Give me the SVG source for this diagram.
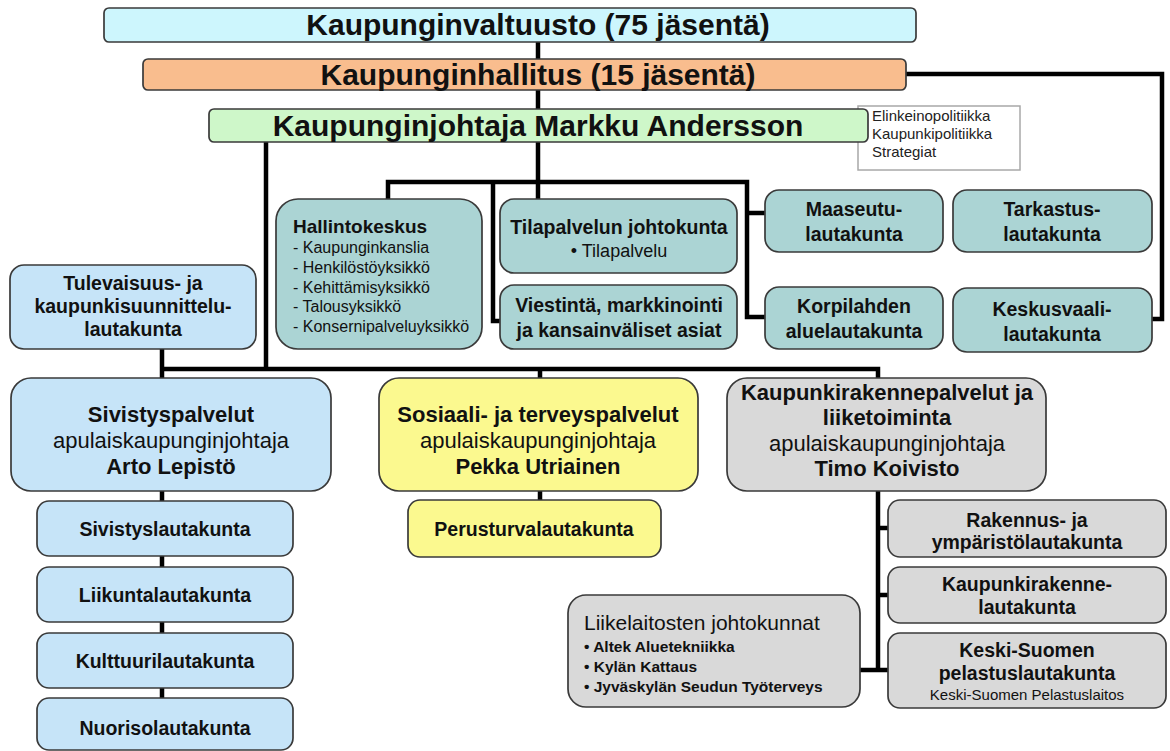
<svg xmlns="http://www.w3.org/2000/svg" width="1170" height="751" viewBox="0 0 1170 751">
<style>
.box{stroke:#3a3a3a;stroke-width:1.7}
.val{fill:#cdf6fd}.hal{fill:#f9bd8e}.joh{fill:#cef7c9}
.teal{fill:#abd4d4}.blue{fill:#c6e4f8}.yel{fill:#fbf98f}.gray{fill:#d9d9d9}
.info{fill:#fff;stroke:#a8a8a8;stroke-width:1.5}
.conn{fill:none;stroke:#000;stroke-width:4.5}
text{font-family:"Liberation Sans",Arial,sans-serif;fill:#111;text-anchor:middle}
.l{text-anchor:start}
.b{font-weight:bold}
.t{font-size:30px;font-weight:bold}
.big{font-size:22px}
.lab{font-size:19.5px;font-weight:bold}
.hk{font-size:19px;font-weight:bold}
.li{font-size:16px}
.inf{font-size:15px;fill:#222}
.lt{font-size:21px}
.it{font-size:15.5px;font-weight:bold}
.sm{font-size:15px}
</style>
<rect width="1170" height="751" fill="#fff"/>
<g id="connectors">
<path class="conn" d="M538 42V59M538 90V109M906 74H1162V319H1152M538 142V199M388 199V182H747V317H765M747 213H765M493 182V321H500M266 142V369M162 349V378M162 369H878V378M540 369V378M540 491V500M162 491V501M162 556V567M162 622V633M162 688V698M878 491V670M878 528H888M878 595H888M860 670H888"/>
</g>
<g id="valtuusto"><rect class="box val" x="104" y="8" width="812" height="34" rx="5"/><text class="t" x="538" y="35">Kaupunginvaltuusto (75 jäsentä)</text></g>
<g id="hallitus"><rect class="box hal" x="143" y="59" width="763" height="31" rx="5"/><text class="t" x="538" y="85">Kaupunginhallitus (15 jäsentä)</text></g>
<g id="info"><rect class="info" x="858" y="106" width="162" height="64"/><text class="inf l" x="872" y="121">Elinkeinopolitiikka</text><text class="inf l" x="872" y="139">Kaupunkipolitiikka</text><text class="inf l" x="872" y="157">Strategiat</text></g>
<g id="johtaja"><rect class="box joh" x="209" y="109" width="659" height="33" rx="5"/><text class="t" x="538" y="136">Kaupunginjohtaja Markku Andersson</text></g>
<g id="hallintokeskus"><rect class="box teal" x="276" y="199" width="206" height="150" rx="22"/><text class="hk l" x="293" y="233">Hallintokeskus</text><text class="li l" x="293" y="253">- Kaupunginkanslia</text><text class="li l" x="293" y="273">- Henkilöstöyksikkö</text><text class="li l" x="293" y="293">- Kehittämisyksikkö</text><text class="li l" x="293" y="312">- Talousyksikkö</text><text class="li l" x="293" y="332">- Konsernipalveluyksikkö</text></g>
<g id="tilapalvelu"><rect class="box teal" x="500" y="199" width="237" height="74" rx="14"/><text class="lab" x="619" y="234">Tilapalvelun johtokunta</text><text style="font-size:18px" x="619" y="257">• Tilapalvelu</text></g>
<g id="viestinta"><rect class="box teal" x="500" y="285" width="237" height="64" rx="14"/><text class="lab" x="619" y="312">Viestintä, markkinointi</text><text class="lab" x="619" y="337">ja kansainväliset asiat</text></g>
<g id="maaseutu"><rect class="box teal" x="765" y="190" width="178" height="62" rx="14"/><text class="lab" x="854" y="216">Maaseutu-</text><text class="lab" x="854" y="241">lautakunta</text></g>
<g id="korpilahti"><rect class="box teal" x="765" y="287" width="178" height="62" rx="14"/><text class="lab" x="854" y="313">Korpilahden</text><text class="lab" x="854" y="338">aluelautakunta</text></g>
<g id="tarkastus"><rect class="box teal" x="953" y="190" width="199" height="62" rx="14"/><text class="lab" x="1052" y="216">Tarkastus-</text><text class="lab" x="1052" y="241">lautakunta</text></g>
<g id="keskusvaali"><rect class="box teal" x="953" y="288" width="199" height="64" rx="14"/><text class="lab" x="1052" y="316">Keskusvaali-</text><text class="lab" x="1052" y="341">lautakunta</text></g>
<g id="tulevaisuus"><rect class="box blue" x="10" y="265" width="246" height="84" rx="14"/><text class="lab" x="133" y="290">Tulevaisuus- ja</text><text class="lab" x="133" y="313">kaupunkisuunnittelu-</text><text class="lab" x="133" y="336">lautakunta</text></g>
<g id="sivistyspalvelut"><rect class="box blue" x="11" y="378" width="320" height="113" rx="20"/><text class="big b" x="171" y="422">Sivistyspalvelut</text><text class="big" x="171" y="448">apulaiskaupunginjohtaja</text><text class="big b" x="171" y="474">Arto Lepistö</text></g>
<g id="sosiaali"><rect class="box yel" x="379" y="378" width="319" height="113" rx="20"/><text class="big b" x="538" y="422">Sosiaali- ja terveyspalvelut</text><text class="big" x="538" y="448">apulaiskaupunginjohtaja</text><text class="big b" x="538" y="474">Pekka Utriainen</text></g>
<g id="kaupunkirakennepalvelut"><rect class="box gray" x="727" y="378" width="319" height="113" rx="20"/><text class="big b" x="887" y="400">Kaupunkirakennepalvelut ja</text><text class="big b" x="887" y="425">liiketoiminta</text><text class="big" x="887" y="451">apulaiskaupunginjohtaja</text><text class="big b" x="887" y="476">Timo Koivisto</text></g>
<g id="sivistyslautakunta"><rect class="box blue" x="37" y="501" width="256" height="55" rx="12"/><text class="lab" x="165" y="536">Sivistyslautakunta</text></g>
<g id="liikuntalautakunta"><rect class="box blue" x="37" y="567" width="256" height="55" rx="12"/><text class="lab" x="165" y="602">Liikuntalautakunta</text></g>
<g id="kulttuurilautakunta"><rect class="box blue" x="37" y="633" width="256" height="55" rx="12"/><text class="lab" x="165" y="668">Kulttuurilautakunta</text></g>
<g id="nuorisolautakunta"><rect class="box blue" x="37" y="698" width="256" height="52" rx="12"/><text class="lab" x="165" y="735">Nuorisolautakunta</text></g>
<g id="perusturvalautakunta"><rect class="box yel" x="408" y="500" width="253" height="57" rx="12"/><text class="lab" x="534" y="536">Perusturvalautakunta</text></g>
<g id="rakennuslautakunta"><rect class="box gray" x="888" y="500" width="278" height="57" rx="12"/><text class="lab" x="1027" y="527">Rakennus- ja</text><text class="lab" x="1027" y="549">ympäristölautakunta</text></g>
<g id="kaupunkirakennelautakunta"><rect class="box gray" x="888" y="567" width="278" height="56" rx="12"/><text class="lab" x="1027" y="591">Kaupunkirakenne-</text><text class="lab" x="1027" y="614">lautakunta</text></g>
<g id="pelastuslautakunta"><rect class="box gray" x="888" y="633" width="278" height="75" rx="12"/><text class="lab" x="1027" y="657">Keski-Suomen</text><text class="lab" x="1027" y="680">pelastuslautakunta</text><text class="sm" x="1027" y="700">Keski-Suomen Pelastuslaitos</text></g>
<g id="liikelaitokset"><rect class="box gray" x="568" y="595" width="292" height="112" rx="18"/><text class="lt l" x="584" y="630">Liikelaitosten johtokunnat</text><text class="it l" x="584" y="652">• Altek Aluetekniikka</text><text class="it l" x="584" y="672">• Kylän Kattaus</text><text class="it l" x="584" y="692">• Jyväskylän Seudun Työterveys</text></g>
</svg>
